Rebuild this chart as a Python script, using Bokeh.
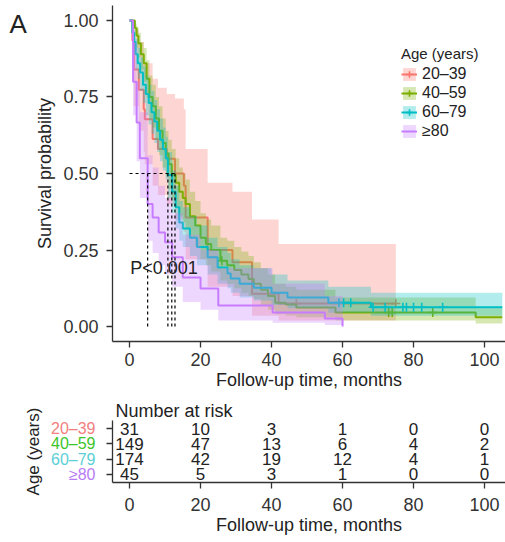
from bokeh.plotting import figure
from bokeh.models import (ColumnDataSource, Legend, LegendItem, Label, FixedTicker,
                          Range1d, NumeralTickFormatter)
from bokeh.layouts import column, row
from bokeh.embed import file_html
from bokeh.resources import INLINE
from bokeh.core.properties import value

FONT = "Liberation Sans"

# ---------------- data ----------------
groups = ["20\u201339", "40\u201359", "60\u201379", "\u226580"]
line_colors = ["#F8766D", "#7CAE00", "#00BFC4", "#C77CFF"]
table_colors = ["#F27F7F", "#3DC52A", "#5CCFD6", "#B87CF5"]

red_t = [0, 0.8, 1.2, 2.6, 4.0, 4.3, 6.5, 8.0, 10.5, 12.8, 15.3, 15.8, 22.0, 29.0, 34.5, 42.0, 75.0]
red_s = [1.0, 0.935, 0.84, 0.774, 0.71, 0.677, 0.613, 0.58, 0.548, 0.5, 0.46, 0.356, 0.25, 0.21, 0.107, 0.075, 0.075]
red_lo = [1.0, 0.85, 0.72, 0.64, 0.57, 0.53, 0.46, 0.43, 0.40, 0.35, 0.31, 0.22, 0.13, 0.10, 0.035, 0.02, 0.02]
red_hi = [1.0, 1.0, 0.97, 0.93, 0.88, 0.86, 0.81, 0.78, 0.76, 0.745, 0.71, 0.58, 0.47, 0.44, 0.35, 0.27, 0.27]

green_t = [0, 1.5, 2.0, 2.5, 3.2, 4.0, 4.8, 5.6, 6.5, 7.4, 8.3, 9.3, 10.2, 11.0, 11.9, 13.0, 14.0, 15.0, 15.8, 17.0,
           18.5, 20.0, 21.5, 23.0, 25.6, 27.5, 29.5, 31.5, 33.5, 35.0, 37.0, 39.0, 41.0, 44.0, 47.0, 58.0, 97.5, 105.0]
green_s = [1.0, 0.975, 0.95, 0.925, 0.89, 0.86, 0.81, 0.75, 0.72, 0.68, 0.64, 0.60, 0.565, 0.53, 0.495, 0.47, 0.44, 0.42, 0.40, 0.36,
           0.33, 0.29, 0.27, 0.25, 0.215, 0.20, 0.185, 0.17, 0.155, 0.14, 0.12, 0.10, 0.078, 0.072, 0.062, 0.046, 0.03, 0.03]
green_lo = [1.0, 0.95, 0.91, 0.88, 0.84, 0.80, 0.75, 0.68, 0.65, 0.61, 0.56, 0.52, 0.49, 0.45, 0.42, 0.39, 0.36, 0.34, 0.32, 0.29,
            0.26, 0.22, 0.20, 0.18, 0.15, 0.14, 0.125, 0.11, 0.10, 0.09, 0.07, 0.055, 0.04, 0.036, 0.03, 0.02, 0.01, 0.01]
green_hi = [1.0, 0.99, 0.98, 0.96, 0.93, 0.91, 0.87, 0.82, 0.79, 0.75, 0.72, 0.68, 0.64, 0.61, 0.58, 0.55, 0.52, 0.50, 0.48, 0.44,
            0.41, 0.37, 0.35, 0.33, 0.29, 0.28, 0.26, 0.245, 0.23, 0.21, 0.19, 0.17, 0.14, 0.13, 0.12, 0.095, 0.06, 0.05]

cyan_t = [0, 0.8, 1.3, 1.7, 2.3, 3.0, 3.8, 4.6, 5.4, 6.2, 7.0, 7.8, 8.6, 9.4, 10.2, 10.8, 12.0, 13.0, 14.0, 15.0,
          17.0, 19.0, 22.0, 24.8, 27.6, 28.5, 31.0, 35.0, 40.0, 44.5, 56.0, 68.0, 105.0]
cyan_s = [1.0, 0.96, 0.93, 0.89, 0.86, 0.83, 0.79, 0.76, 0.73, 0.70, 0.67, 0.64, 0.61, 0.58, 0.55, 0.495, 0.44, 0.39, 0.34, 0.32,
          0.29, 0.26, 0.226, 0.193, 0.173, 0.157, 0.14, 0.127, 0.11, 0.095, 0.078, 0.063, 0.063]
cyan_lo = [1.0, 0.93, 0.89, 0.84, 0.81, 0.77, 0.73, 0.69, 0.66, 0.63, 0.60, 0.57, 0.54, 0.51, 0.48, 0.42, 0.37, 0.32, 0.28, 0.26,
           0.23, 0.20, 0.17, 0.14, 0.125, 0.11, 0.095, 0.085, 0.07, 0.06, 0.045, 0.035, 0.035]
cyan_hi = [1.0, 0.99, 0.97, 0.94, 0.91, 0.88, 0.85, 0.82, 0.79, 0.77, 0.74, 0.71, 0.68, 0.65, 0.62, 0.57, 0.51, 0.46, 0.41, 0.39,
           0.36, 0.33, 0.29, 0.26, 0.24, 0.22, 0.20, 0.19, 0.17, 0.15, 0.13, 0.11, 0.11]

purple_t = [0, 1.0, 2.0, 2.9, 5.1, 6.5, 8.2, 10.0, 12.0, 15.0, 20.0, 25.0, 40.3, 55.0, 60.0]
purple_s = [1.0, 0.80, 0.667, 0.55, 0.40, 0.356, 0.307, 0.275, 0.226, 0.16, 0.124, 0.069, 0.046, 0.026, 0.0]
purple_lo = [1.0, 0.69, 0.54, 0.42, 0.28, 0.24, 0.20, 0.17, 0.13, 0.08, 0.055, 0.02, 0.012, 0.005, 0.0]
purple_hi = [1.0, 0.93, 0.80, 0.70, 0.56, 0.52, 0.46, 0.42, 0.37, 0.30, 0.25, 0.19, 0.14, 0.10, 0.0]

# censoring marks
red_ct = [47.0, 75.0]
red_cs = [0.075, 0.075]
green_ct = [26.0, 73.0, 74.0, 85.4]
green_cs = [0.215, 0.046, 0.046, 0.046]
cyan_ct = [59.0, 60.3, 62.3, 68.6, 72.0, 77.0, 78.0, 80.0, 82.3, 88.2]
cyan_cs = [0.078, 0.078, 0.078, 0.063, 0.063, 0.063, 0.063, 0.063, 0.063, 0.063]
purple_ct = []
purple_cs = []

# median survival times (dashed reference lines)
medians = [12.8, 11.9, 10.8, 5.1]

# numbers at risk
risk_times = [0, 20, 40, 60, 80, 100]
risk_20_39 = [31, 10, 3, 1, 0, 0]
risk_40_59 = [149, 47, 13, 6, 4, 2]
risk_60_79 = [174, 42, 19, 12, 4, 1]
risk_80 = [45, 5, 3, 1, 0, 0]

x_ticks = [0, 20, 40, 60, 80, 100]
y_ticks = [0, 0.25, 0.5, 0.75, 1.0]

curves = [
    (red_t, red_s, red_lo, red_hi, red_ct, red_cs),
    (green_t, green_s, green_lo, green_hi, green_ct, green_cs),
    (cyan_t, cyan_s, cyan_lo, cyan_hi, cyan_ct, cyan_cs),
    (purple_t, purple_s, purple_lo, purple_hi, purple_ct, purple_cs),
]
risk_rows = [risk_20_39, risk_40_59, risk_60_79, risk_80]

XR = (-4.8, 105.9)
YR_MAIN = (-0.049, 1.049)
YR_RISK = (0.47, 4.53)
AX_COL = "#333333"
TXT = "#222222"

# layout sizes (pixels)
MAIN_H, RISK_H = 392, 150
MAIN_TOP, MAIN_BOT = 5, 51
RISK_TOP, RISK_BOT = 28, 60
A_STRIP_W = 28
LAB_STRIP_W = 98
LAB_STRIP_BORDER = 48


def style_axes(fig, tick_size="18px", title_size="18px"):
    for ax in fig.axis:
        ax.axis_line_color = AX_COL
        ax.axis_line_width = 1.3
        ax.major_tick_line_color = AX_COL
        ax.major_tick_line_width = 1.3
        ax.major_tick_out = 6
        ax.major_tick_in = 0
        ax.minor_tick_line_color = None
        ax.major_label_text_font = FONT
        ax.major_label_text_font_size = tick_size
        ax.major_label_text_color = "#333333"
        ax.axis_label_text_font = FONT
        ax.axis_label_text_font_size = title_size
        ax.axis_label_text_font_style = "normal"
        ax.axis_label_text_color = TXT
    fig.grid.visible = False
    fig.outline_line_color = None


# ---------------- main KM plot ----------------
p = figure(width=505 - A_STRIP_W, height=MAIN_H, x_range=Range1d(*XR), y_range=Range1d(*YR_MAIN),
           output_backend="svg", toolbar_location=None,
           min_border_left=112 - A_STRIP_W, min_border_right=0,
           min_border_top=MAIN_TOP, min_border_bottom=MAIN_BOT)

items = []
for (t, s, lo, hi, ct, cs), col, name in zip(curves, line_colors, groups):
    band = p.varea_step(x=t, y1=lo, y2=hi, step_mode="after", fill_color=col, fill_alpha=0.3)
    ln = p.step(x=t, y=s, mode="after", line_color=col, line_width=2)
    src = ColumnDataSource(dict(x=ct, y=cs))
    mk = p.scatter(x="x", y="y", source=src, marker="cross", size=9, line_color=col, line_width=1.6)
    items.append(LegendItem(label=name, renderers=[band, ln, mk]))

# median lines
p.line(x=[0, max(medians)], y=[0.5, 0.5], line_color="black", line_dash="3 3", line_width=1.2)
for m in medians:
    p.line(x=[m, m], y=[0, 0.5], line_color="black", line_dash="3 3", line_width=1.2)

p.add_layout(Label(x=0.2, y=0.19, text="P<0.001", text_font=FONT, text_font_size="18px",
                   text_color=TXT, text_baseline="middle", text_align="left"))

legend = Legend(items=items, location=(289, 201), title="Age (years)",
                title_text_font=FONT, title_text_font_size="15px", title_text_font_style="normal",
                title_text_color=TXT, title_standoff=3,
                label_text_font=FONT, label_text_font_size="16px", label_text_color=TXT,
                glyph_width=16, glyph_height=16, spacing=1, label_standoff=5, label_height=16,
                padding=2, margin=0, background_fill_alpha=0, border_line_color=None)
p.add_layout(legend)

p.xaxis.ticker = FixedTicker(ticks=x_ticks)
p.yaxis.ticker = FixedTicker(ticks=y_ticks)
p.yaxis.formatter = NumeralTickFormatter(format="0.00")
p.xaxis.axis_label = "Follow-up time, months"
p.yaxis.axis_label = "Survival probability"
style_axes(p)
p.xaxis.major_label_standoff = 5
p.xaxis.axis_label_standoff = 1
p.yaxis.major_label_standoff = 8
p.yaxis.axis_label_standoff = 5

# panel letter strip (left of the main plot; its frame is aligned with the main frame)
pa = figure(width=A_STRIP_W, height=MAIN_H, x_range=Range1d(0, A_STRIP_W), y_range=Range1d(*YR_MAIN),
            output_backend="svg", toolbar_location=None, x_axis_type=None, y_axis_type=None,
            min_border_left=0, min_border_right=0, min_border_top=MAIN_TOP, min_border_bottom=MAIN_BOT)
pa.outline_line_color = None
pa.text(x=[9], y=[0.99], text=["A"], text_font=value(FONT), text_font_size="26px",
        text_color=TXT, text_align="left", text_baseline="middle")

# ---------------- risk table ----------------
r = figure(width=505 - LAB_STRIP_W, height=RISK_H, x_range=Range1d(*XR), y_range=Range1d(*YR_RISK),
           output_backend="svg", toolbar_location=None,
           min_border_left=112 - LAB_STRIP_W, min_border_right=0,
           min_border_top=RISK_TOP, min_border_bottom=RISK_BOT)
r.title.text = "Number at risk"
r.title.align = "left"
r.title.offset = 3
r.title.standoff = 0
r.title.text_font = FONT
r.title.text_font_size = "18px"
r.title.text_font_style = "normal"
r.title.text_color = TXT

row_pos = [4, 3, 2, 1]
for counts, yv in zip(risk_rows, row_pos):
    r.text(x=risk_times, y=[yv] * len(risk_times), text=[str(c) for c in counts],
           text_align="center", text_baseline="middle", text_font=value(FONT),
           text_font_size="17px", text_color=TXT)

r.xaxis.ticker = FixedTicker(ticks=x_ticks)
r.yaxis.ticker = FixedTicker(ticks=row_pos)
r.xaxis.axis_label = "Follow-up time, months"
style_axes(r)
r.yaxis.major_label_text_font_size = "0px"
r.yaxis.major_label_text_color = None
r.yaxis.major_label_standoff = 0
r.xaxis.major_label_standoff = 9
r.xaxis.axis_label_standoff = 1

# group labels strip (left of the risk table; same vertical scale as the table)
lab_w = LAB_STRIP_W - LAB_STRIP_BORDER
rl = figure(width=LAB_STRIP_W, height=RISK_H, x_range=Range1d(0, lab_w), y_range=Range1d(*YR_RISK),
            output_backend="svg", toolbar_location=None, x_axis_type=None,
            min_border_left=LAB_STRIP_BORDER, min_border_right=0,
            min_border_top=RISK_TOP, min_border_bottom=RISK_BOT)
rl.outline_line_color = None
rl.grid.visible = False
rl.yaxis.axis_label = "Age (years)"
rl.yaxis.axis_label_text_font = FONT
rl.yaxis.axis_label_text_font_size = "17px"
rl.yaxis.axis_label_text_font_style = "normal"
rl.yaxis.axis_label_text_color = TXT
rl.yaxis.axis_label_standoff = 2
rl.yaxis.axis_line_color = None
rl.yaxis.major_tick_line_color = None
rl.yaxis.minor_tick_line_color = None
rl.yaxis.major_tick_out = 0
rl.yaxis.major_label_text_font_size = "0px"
rl.yaxis.major_label_text_color = None
rl.yaxis.major_label_standoff = 0
rl.text(x=[lab_w - 3] * len(groups), y=row_pos, text=groups, text_color=table_colors,
        text_align="right", text_baseline="middle", text_font=value(FONT), text_font_size="16px")

layout = column(row(pa, p, spacing=0), row(rl, r, spacing=0), spacing=0)
open("out.html", "w").write(file_html(layout, INLINE))
